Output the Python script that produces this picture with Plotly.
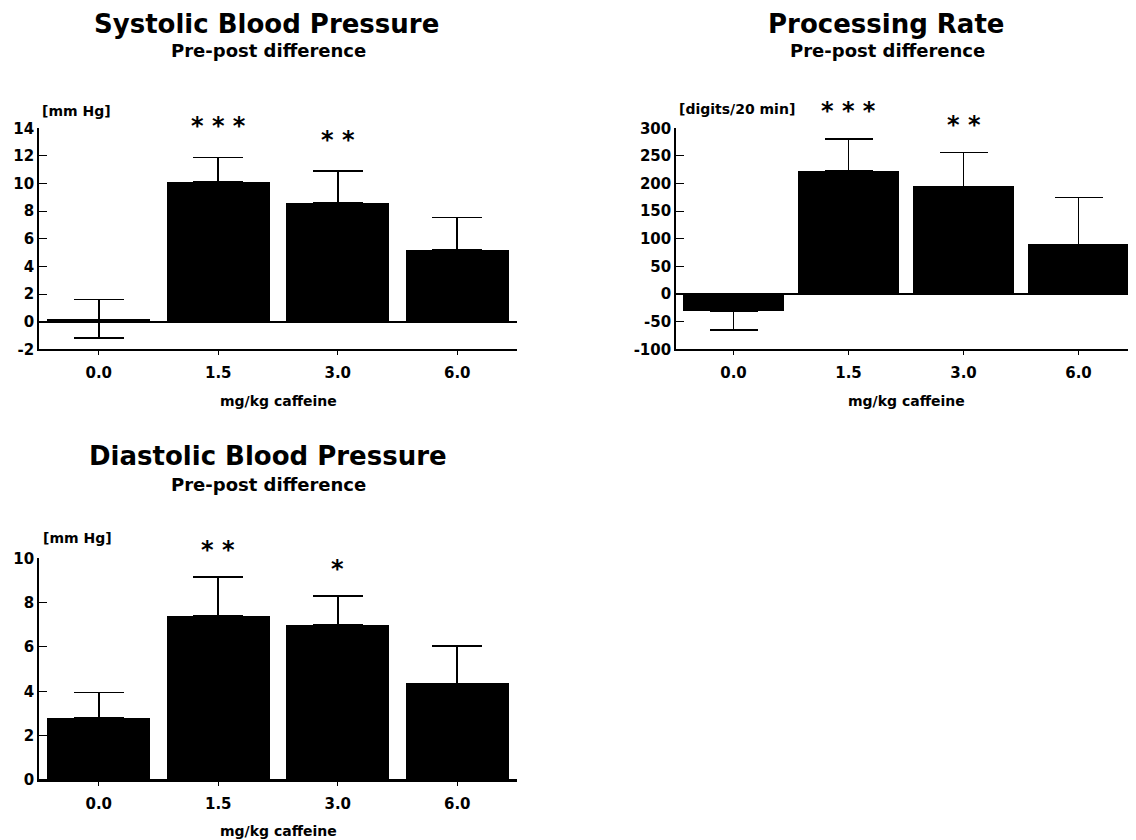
import plotly.graph_objects as go

# ---------------- data ----------------
doses = ["0.0", "1.5", "3.0", "6.0"]

sys_mean = [0.2, 10.1, 8.6, 5.2]
sys_err_plus = [1.4, 1.8, 2.3, 2.35]
sys_err_minus = [1.4, 0, 0, 0]
sys_stars = ["", "* * *", "* *", ""]
sys_yticks = [-2, 0, 2, 4, 6, 8, 10, 12, 14]

proc_mean = [-31, 223, 195, 90]
proc_err_plus = [0, 58, 61, 85]
proc_err_minus = [34, 0, 0, 0]
proc_stars = ["", "* * *", "* *", ""]
proc_yticks = [-100, -50, 0, 50, 100, 150, 200, 250, 300]

dia_mean = [2.8, 7.4, 7.0, 4.35]
dia_err_plus = [1.15, 1.75, 1.3, 1.7]
dia_err_minus = [0, 0, 0, 0]
dia_stars = ["", "* *", "*", ""]
dia_yticks = [0, 2, 4, 6, 8, 10]

titles = ["Systolic Blood Pressure", "Processing Rate", "Diastolic Blood Pressure"]
subtitle = "Pre-post difference"
units = ["[mm Hg]", "[digits/20 min]", "[mm Hg]"]
xlabel = "mg/kg caffeine"

# ---------------- layout helpers ----------------
# The page body has an 8px default margin, so the figure is made 8px smaller
# and every page coordinate below is converted to figure coordinates.
OFF = 8
W, H = 1136 - OFF, 840 - OFF
FONT = "DejaVu Sans"


def px(x):
    return (x - OFF) / W


def py(y):
    return 1 - (y - OFF) / H


panels = [
    dict(mean=sys_mean, plus=sys_err_plus, minus=sys_err_minus, stars=sys_stars,
         ticks=sys_yticks, yr=[-2, 14], xd=[39, 517], yd=[128.3, 349.3],
         title_xy=(266, 24), sub_xy=(268, 51), unit_xy=(40, 110.5), xl_y=401,
         width=0.86, cap=25, star_shift=31),
    dict(mean=proc_mean, plus=proc_err_plus, minus=proc_err_minus, stars=proc_stars,
         ticks=proc_yticks, yr=[-100, 300], xd=[676, 1136], yd=[128.3, 349.3],
         title_xy=(886, 24), sub_xy=(887, 51), unit_xy=(677, 108.5), xl_y=401,
         width=0.87, cap=24, star_shift=28),
    dict(mean=dia_mean, plus=dia_err_plus, minus=dia_err_minus, stars=dia_stars,
         ticks=dia_yticks, yr=[0, 10], xd=[39, 517], yd=[558.3, 780],
         title_xy=(268, 456), sub_xy=(268, 484), unit_xy=(41, 538), xl_y=831,
         width=0.86, cap=25, star_shift=27),
]

fig = go.Figure()
annotations = []
layout = {}

for i, p in enumerate(panels):
    n = "" if i == 0 else str(i + 1)
    xa, ya = "x" + n, "y" + n
    fig.add_trace(go.Bar(
        x=doses, y=p["mean"], xaxis=xa, yaxis=ya, width=p["width"],
        marker=dict(color="black", line=dict(width=0)),
        error_y=dict(type="data", symmetric=False, array=p["plus"],
                     arrayminus=p["minus"], color="black", thickness=1.6,
                     width=p["cap"]),
        showlegend=False, hoverinfo="skip",
    ))
    layout["xaxis" + n] = dict(
        domain=[px(p["xd"][0]), min(1.0, px(p["xd"][1]))], anchor=ya,
        type="category", categoryorder="array", categoryarray=doses,
        range=[-0.5, 3.5],
        showline=True, linecolor="black", linewidth=1.6, mirror=False,
        ticks="outside", ticklen=4, tickwidth=1.2, tickcolor="black",
        showgrid=False, zeroline=False, ticklabelstandoff=5, automargin=False,
        tickfont=dict(family=FONT, size=15, color="black", weight="bold"),
    )
    layout["yaxis" + n] = dict(
        domain=[py(p["yd"][1]), py(p["yd"][0])], anchor=xa, range=p["yr"],
        tickvals=p["ticks"], ticktext=[str(t) for t in p["ticks"]],
        showline=True, linecolor="black", linewidth=1.6, automargin=False,
        ticks="inside", ticklen=8, tickwidth=1.4, tickcolor="black",
        showgrid=False, zeroline=True, zerolinecolor="black", zerolinewidth=1.6,
        tickfont=dict(family=FONT, size=15, color="black", weight="bold"),
    )
    # titles
    annotations.append(dict(
        text=titles[i], xref="paper", yref="paper",
        x=px(p["title_xy"][0]), y=py(p["title_xy"][1]),
        xanchor="center", yanchor="middle", showarrow=False,
        font=dict(family=FONT, size=26, color="black", weight="bold")))
    annotations.append(dict(
        text=subtitle, xref="paper", yref="paper",
        x=px(p["sub_xy"][0]), y=py(p["sub_xy"][1]),
        xanchor="center", yanchor="middle", showarrow=False,
        font=dict(family=FONT, size=18, color="black", weight="bold")))
    annotations.append(dict(
        text=units[i], xref="paper", yref="paper",
        x=px(p["unit_xy"][0]), y=py(p["unit_xy"][1]),
        xanchor="left", yanchor="middle", showarrow=False,
        font=dict(family=FONT, size=14, color="black", weight="bold")))
    annotations.append(dict(
        text=xlabel, xref=xa, yref="paper",
        x=1.5, y=py(p["xl_y"]),
        xanchor="center", yanchor="middle", showarrow=False,
        font=dict(family=FONT, size=14, color="black", weight="bold")))
    # significance stars above error bars (x given as category index)
    for k, (m, e, s) in enumerate(zip(p["mean"], p["plus"], p["stars"])):
        if s:
            annotations.append(dict(
                text=s, xref=xa, yref=ya, x=k, y=m + e,
                xanchor="center", yanchor="middle", yshift=p["star_shift"],
                showarrow=False,
                font=dict(family=FONT, size=24, color="black", weight="bold")))

fig.update_layout(
    width=W, height=H,
    margin=dict(l=0, r=0, t=0, b=0, pad=0, autoexpand=False),
    paper_bgcolor="white", plot_bgcolor="white",
    bargap=0, annotations=annotations, **layout,
)

fig.write_html("out.html")
